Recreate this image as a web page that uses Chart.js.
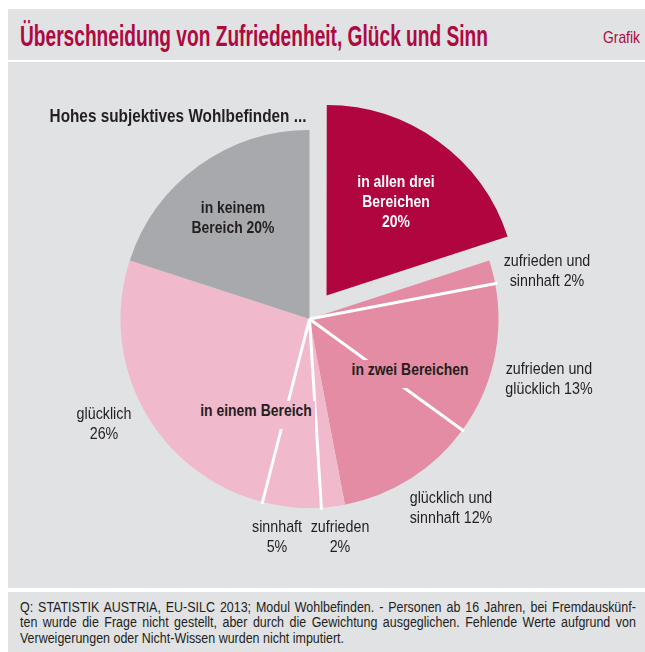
<!DOCTYPE html>
<html>
<head>
<meta charset="utf-8">
<script src="https://cdn.jsdelivr.net/npm/chart.js@4.4.1/dist/chart.umd.min.js"></script>
<style>
  html, body { margin: 0; padding: 0; background: #fff; }
  body { width: 645px; height: 652px; position: relative; overflow: hidden;
         font-family: "Liberation Sans", Arial, sans-serif; color: #231f20; }
  .panel { position: absolute; left: 8px; right: 0; background: #e1e2e4; }
  #titleBar { top: 9px; height: 51px; }
  #mainPanel { top: 62px; height: 526px; }
  #footPanel { top: 592px; height: 60px; }
  #title { position: absolute; left: 20px; top: 21px; font-size: 30px; line-height: 30px; font-weight: bold;
           color: #ae0940; white-space: nowrap; transform-origin: 0 0; }
  #grafik { position: absolute; left: 603px; top: 29px; font-size: 17px; line-height: 17px;
            color: #ae0940; white-space: nowrap; transform-origin: 0 0; }
  #chartCanvas { position: absolute; left: 60px; top: 69px; }
  .lbl { position: absolute; font-size: 17px; line-height: 20px; white-space: nowrap; text-align: center;
         transform: translateX(-50%) scaleX(0.84); }
  .b { font-weight: bold; transform: translateX(-50%) scaleX(0.82); }
  .footLine { position: absolute; left: 20px; width: 751px; font-size: 15.2px; line-height: 15px;
              white-space: nowrap; transform: scaleX(0.82); transform-origin: 0 0; }
  .just { text-align: justify; text-align-last: justify; }
</style>
</head>
<body>
<div class="panel" id="titleBar"></div>
<div class="panel" id="mainPanel"></div>
<div class="panel" id="footPanel"></div>
<div id="title" data-w="468">Überschneidung von Zufriedenheit, Glück und Sinn</div>
<div id="grafik" data-w="37">Grafik</div>
<canvas id="chartCanvas" width="499" height="500"></canvas>
<div id="labels"></div>
<div id="foot"></div>
<script>
/* Data */

const segmentNames = [
    "in allen drei Bereichen",
    "zufrieden und sinnhaft",
    "zufrieden und glücklich",
    "glücklich und sinnhaft",
    "zufrieden",
    "sinnhaft",
    "glücklich",
    "in keinem Bereich"
];
const segmentValues = [20, 2, 13, 12, 2, 5, 26, 20];
const segmentColors = ["#b1053f", "#e38ca3", "#e38ca3", "#e38ca3", "#f1b9cc", "#f1b9cc", "#f1b9cc", "#a7a9ac"];
// chart.js divides the arc offset by 4 when drawing, so 116 -> ~29px
const segmentOffsets = [116, 0, 0, 0, 0, 0, 0, 0];
// slices whose start edge gets a white divider line
const dividerStarts = [2, 3, 5, 6];

const footLines = [
    "Q: STATISTIK AUSTRIA, EU-SILC 2013; Modul Wohlbefinden. - Personen ab 16 Jahren, bei Fremdauskünf-",
    "ten wurde die Frage nicht gestellt, aber durch die Gewichtung ausgeglichen. Fehlende Werte aufgrund von",
    "Verweigerungen oder Nicht-Wissen wurden nicht imputiert."
];

/* Labels (text, center x, first line center y, bold, background) */

const labelItems = [
    { lines: ["Hohes subjektives Wohlbefinden ..."], x: 178, y: 116, bold: true, size: 18.7 },
    { lines: ["in allen drei", "Bereichen", "20%"], x: 396, y: 182, bold: true, color: "#fff" },
    { lines: ["in keinem", "Bereich 20%"], x: 233, y: 208, bold: true },
    { lines: ["zufrieden und", "sinnhaft 2%"], x: 547, y: 261 },
    { lines: ["zufrieden und", "glücklich 13%"], x: 549, y: 369 },
    { lines: ["in zwei Bereichen"], x: 410, y: 370, bold: true, bg: "#e38ca3" },
    { lines: ["in einem Bereich"], x: 256, y: 411, bold: true, bg: "#f1b9cc" },
    { lines: ["glücklich", "26%"], x: 104, y: 414 },
    { lines: ["glücklich und", "sinnhaft 12%"], x: 451, y: 498 },
    { lines: ["sinnhaft", "5%"], x: 277, y: 527 },
    { lines: ["zufrieden", "2%"], x: 340, y: 527 }
];

const labelsEl = document.querySelector("#labels");

labelItems.forEach(item => {
    const el = document.createElement("div");
    el.className = "lbl" + (item.bold ? " b" : "");
    el.innerHTML = item.lines.join("<br>");
    el.style.left = item.x + "px";
    el.style.top = (item.y - 10) + "px";
    if (item.size) el.style.fontSize = item.size + "px";
    if (item.color) el.style.color = item.color;
    if (item.bg) {
        el.style.background = item.bg;
        el.style.padding = "0 4px 8px 4px";
    }
    labelsEl.appendChild(el);
});

const footEl = document.querySelector("#foot");

footLines.forEach((text, i) => {
    const line = document.createElement("div");
    line.className = "footLine" + (i < footLines.length - 1 ? " just" : "");
    line.textContent = text;
    line.style.top = (598.5 + i * 15.5) + "px";
    footEl.appendChild(line);
});

/* White divider lines between some slices */

const dividerPlugin = {
    id: "dividers",
    afterDatasetsDraw(chart) {
        const ctx = chart.ctx;
        const arcs = chart.getDatasetMeta(0).data;
        ctx.save();
        ctx.strokeStyle = "#ffffff";
        ctx.lineWidth = 3;
        dividerStarts.forEach(i => {
            const arc = arcs[i];
            const r = arc.outerRadius + 2;
            ctx.beginPath();
            ctx.moveTo(arc.x, arc.y);
            ctx.lineTo(arc.x + Math.cos(arc.startAngle) * r, arc.y + Math.sin(arc.startAngle) * r);
            ctx.stroke();
        });
        ctx.restore();
    }
};

const pieChart = new Chart(document.querySelector("#chartCanvas"), {
    type: "pie",
    data: {
        labels: segmentNames,
        datasets: [
            {
                data: segmentValues,
                backgroundColor: segmentColors,
                offset: segmentOffsets,
                borderWidth: 0
            }
        ]
    },
    options: {
        responsive: false,
        animation: false,
        devicePixelRatio: 1,
        radius: 189,
        layout: { padding: 0 },
        plugins: {
            legend: { display: false },
            tooltip: { enabled: false }
        }
    },
    plugins: [dividerPlugin]
});

/* squeeze title texts to their measured widths */
document.querySelectorAll("[data-w]").forEach(el => {
    const w = el.getBoundingClientRect().width;
    el.style.transform = "scaleX(" + (Number(el.dataset.w) / w) + ")";
});
</script>
</body>
</html>
